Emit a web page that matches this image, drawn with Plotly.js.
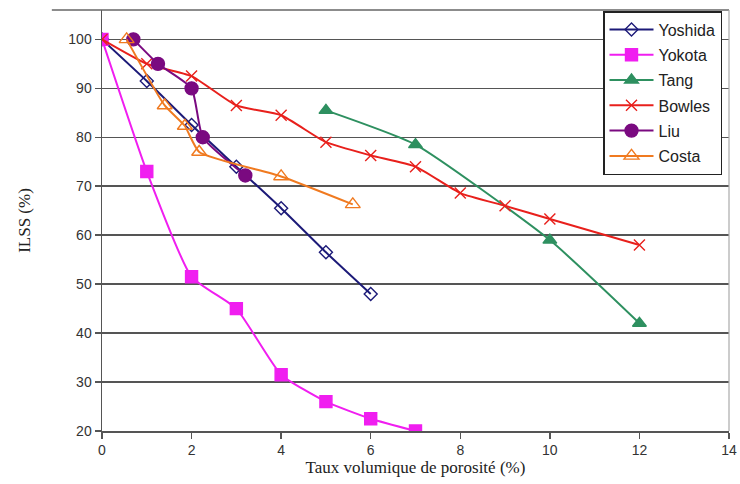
<!DOCTYPE html>
<html>
<head>
<meta charset="utf-8">
<script src="https://cdn.plot.ly/plotly-3.0.1.min.js"></script>
<style>html,body{margin:0;padding:0;background:#fff;}#chart{width:740px;height:484px;}</style>
</head>
<body>
<div id="chart"></div>
<script>
const seriesNames = ["Yoshida", "Yokota", "Tang", "Bowles", "Liu", "Costa"];

const yoshidaX = [0, 1, 2, 3, 4, 5, 6];
const yoshidaY = [100, 91.5, 82.5, 74, 65.5, 56.5, 48];

const yokotaX = [0, 1, 2, 3, 4, 5, 6, 7];
const yokotaY = [100, 73, 51.5, 45, 31.5, 26, 22.5, 20];

const tangX = [5, 7, 10, 12];
const tangY = [85.5, 78.5, 59, 42];

const bowlesX = [0, 1, 2, 3, 4, 5, 6, 7, 8, 9, 10, 12];
const bowlesY = [100, 95, 92.5, 86.5, 84.5, 79, 76.3, 74, 68.6, 66, 63.3, 58];

const liuX = [0.7, 1.25, 2, 2.25, 3.2];
const liuY = [100, 95, 90, 80, 72.2];

const costaX = [0.55, 1.4, 1.85, 2.17, 4, 5.6];
const costaY = [100, 86.5, 82.3, 77, 72, 66.3];

const xTicks = [0, 2, 4, 6, 8, 10, 12, 14];
const yTicks = [20, 30, 40, 50, 60, 70, 80, 90, 100];

function mk(name, x, y, color, symbol, size, lw) {
  return {
    type: 'scatter', mode: 'lines+markers', name: name, x: x, y: y,
    legendgroup: name,
    line: {color: color, width: lw, shape: 'spline', smoothing: 0.5},
    marker: {symbol: symbol, size: size, color: color,
             line: {color: color, width: 1.4}}
  };
}

const traces = [
  mk(seriesNames[0], yoshidaX, yoshidaY, '#1c1a78', 'diamond-open', 10, 2),
  mk(seriesNames[1], yokotaX, yokotaY, '#f01ef0', 'square', 12, 2),
  mk(seriesNames[2], tangX, tangY, '#2e9060', 'triangle-up', 12, 2),
  mk(seriesNames[3], bowlesX, bowlesY, '#e8201c', 'x-thin-open', 11, 2),
  mk(seriesNames[4], liuX, liuY, '#7a0a80', 'circle', 13, 2),
  mk(seriesNames[5], costaX, costaY, '#f07a20', 'triangle-up-open', 13, 2)
];

const layout = {
  width: 740, height: 484,
  margin: {l: 102, r: 11, t: 10, b: 53, autoexpand: false},
  paper_bgcolor: '#fff', plot_bgcolor: '#fff',
  font: {family: 'Arial, Liberation Sans, sans-serif', color: '#333', size: 14},
  showlegend: true,
  legend: {
    x: 603 / 740, y: 1 - 11 / 484, xref: 'container', yref: 'container',
    xanchor: 'left', yanchor: 'top',
    bgcolor: '#fff', bordercolor: '#222', borderwidth: 1.5,
    font: {size: 16, color: '#222'},
    traceorder: 'grouped', tracegroupgap: 1.5, itemwidth: 44
  },
  xaxis: {
    range: [0, 14], tickvals: xTicks, ticktext: xTicks.map(String),
    showgrid: false, zeroline: false,
    showline: true, linecolor: '#555', linewidth: 1.5,
    ticks: 'outside', ticklen: 6, tickcolor: '#555', tickwidth: 1.5,
    tickfont: {size: 14, color: '#333'},
    title: {text: 'Taux volumique de porosité (%)', standoff: 4,
            font: {family: 'Liberation Serif, Times New Roman, serif', size: 17, color: '#222'}}
  },
  yaxis: {
    range: [20, 106], tickvals: yTicks, ticktext: yTicks.map(String),
    showgrid: true, gridcolor: '#555', gridwidth: 1.5,
    zeroline: false,
    showline: true, linecolor: '#555', linewidth: 1.5,
    ticks: 'outside', ticklen: 6, tickcolor: '#555', tickwidth: 1.5,
    tickfont: {size: 14, color: '#333'},
    title: {text: 'ILSS (%)', standoff: 33,
            font: {family: 'Liberation Serif, Times New Roman, serif', size: 17, color: '#222'}}
  },
  shapes: [
    {type: 'line', xref: 'paper', yref: 'paper', x0: -0.08, x1: 1, y0: 1, y1: 1,
     line: {color: '#666', width: 1.5}},
    {type: 'line', xref: 'paper', yref: 'paper', x0: 1, x1: 1, y0: 0, y1: 1,
     line: {color: '#aaa', width: 1.2}}
  ]
};

Plotly.newPlot('chart', traces, layout, {displayModeBar: false, staticPlot: true});
</script>
</body>
</html>
